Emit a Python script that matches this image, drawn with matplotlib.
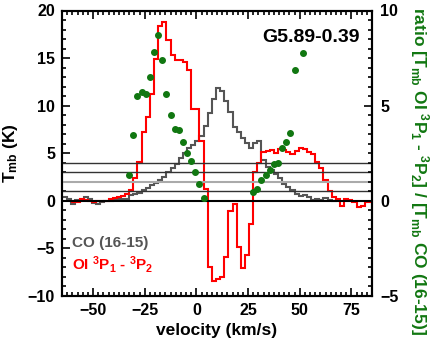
import numpy as np
import matplotlib
matplotlib.use('Agg')
import matplotlib.pyplot as plt
from matplotlib.ticker import MultipleLocator

plt.rcParams['font.family'] = ['Liberation Sans', 'DejaVu Sans']
plt.rcParams['font.weight'] = 'bold'
plt.rcParams['mathtext.fontset'] = 'custom'
plt.rcParams['mathtext.rm'] = 'Liberation Sans:bold'
plt.rcParams['mathtext.bf'] = 'Liberation Sans:bold'
plt.rcParams['mathtext.it'] = 'Liberation Sans:bold'
plt.rcParams['mathtext.default'] = 'bf'

# ---- data ----
chan_width = 2.0
co_v_start = -66.5
co_tmb = [0.45, 0.45, 0.2, -0.3, 0.1, 0.1, 0.45, 0.2, -0.2, -0.3, -0.1, 0.0, 0.0, 0.1,
          0.15, 0.15, 0.2, 0.6, 0.7, 0.8, 1.1, 1.4, 1.7, 1.9, 2.15, 2.5, 3.0, 3.4, 3.9,
          4.5, 5.0, 5.5, 5.9, 6.3, 6.8, 7.9, 9.2, 10.7, 11.9, 11.5, 10.5, 9.3, 7.8, 7.2,
          6.6, 6.1, 5.5, 6.1, 6.3, 4.3, 3.6, 3.2, 2.8, 2.4, 1.8, 1.5, 1.1, 0.7, 0.5, 0.65,
          0.45, 0.1, 0.2, 0.1, 0.3, 0.1, 0.0, 0.1]

oi_v_start = -60.5
oi_tmb = [-0.1, -0.1, 0.2, 0.1, 0.0, -0.1, 0.0, 0.0, 0.0, 0.15, 0.3, 0.45, 0.5, 0.7, 1.1,
          2.4, 4.1, 7.2, 8.8, 11.2, 14.9, 18.4, 18.8, 16.9, 15.3, 14.8, 14.8, 14.6, 13.8,
          9.7, 9.7, 6.3, 1.2, -7.0, -8.4, -8.2, -8.0, -5.9, -1.1, -0.3, -4.9, -7.1, -5.7,
          -2.4, 3.0, 4.0, 5.1, 5.2, 5.3, 5.05, 5.4, 5.3, 5.1, 4.95, 5.2, 5.55, 5.4, 5.1,
          4.95, 4.1, 3.4, 2.2, 1.0, 0.45, 0.2, -0.5, 0.2, 0.1, -0.1, -0.6, -0.5, -0.1, -0.1]

ratio_v = [-32.5, -30.5, -28.5, -26.5, -24.5, -22.5, -20.5, -18.5, -16.5, -14.5, -12.5,
           -10.5, -8.5, -6.5, -4.5, -2.5, -0.5, 1.5, 3.5,
           27.5, 29.5, 31.5, 33.5, 35.5, 37.5, 39.5, 41.5, 43.5, 45.5, 47.5, 51.5]
ratio = [1.37, 3.48, 5.5, 5.7, 5.6, 6.5, 7.8, 8.7, 7.4, 5.6, 4.5, 3.8, 3.7, 3.1, 2.5, 2.1,
         1.5, 0.9, 0.16,
         0.45, 0.6, 1.07, 1.37, 1.6, 1.95, 2.0, 2.8, 3.08, 3.57, 6.9, 7.77]

ratio_levels = [0.5, 1.0, 1.5, 2.0]
ratio_level_colors = ['#333333', '#aaaaaa', '#333333', '#333333']

co_edges = co_v_start + chan_width * np.arange(len(co_tmb) + 1)
oi_edges = oi_v_start + chan_width * np.arange(len(oi_tmb) + 1)

# ---- figure ----
fig = plt.figure(figsize=(4.36, 3.4), dpi=100)
ax = fig.add_axes([62/436, 44/340, 310/436, 285.5/340])
ax2 = ax.twinx()

ax.stairs(co_tmb, co_edges, color='#555555', lw=1.5, baseline=None, zorder=3)
ax.stairs(oi_tmb, oi_edges, color='#ff0000', lw=1.5, baseline=None, zorder=4)
ax.axhline(0, color='black', lw=1.5, zorder=5)

for lev, c in zip(ratio_levels, ratio_level_colors):
    ax2.axhline(lev, color=c, lw=1.0 if c != '#aaaaaa' else 1.5, zorder=1)
ax2.plot(ratio_v, ratio, 'o', color='#117711', ms=4, mec='#117711', zorder=6)

ax.set_xlim(-65, 85)
ax.set_ylim(-10, 20)
ax2.set_ylim(-5, 10)

ax.xaxis.set_major_locator(MultipleLocator(25))
ax.xaxis.set_minor_locator(MultipleLocator(2.5))
ax.yaxis.set_major_locator(MultipleLocator(5))
ax.yaxis.set_minor_locator(MultipleLocator(1))
ax2.yaxis.set_major_locator(MultipleLocator(5))
ax2.yaxis.set_minor_locator(MultipleLocator(0.5))

for a in (ax, ax2):
    for s in a.spines.values():
        s.set_linewidth(1.5)
ax.tick_params(which='both', direction='in', top=True, right=False, width=1.2,
               labelsize=11.5, pad=5)
ax.tick_params(which='major', length=6)
ax.tick_params(which='minor', length=3)
ax2.tick_params(which='both', direction='in', width=1.2, labelsize=11.5, pad=6)
ax2.tick_params(which='major', length=6)
ax2.tick_params(which='minor', length=3)

ax.set_xlabel('velocity (km/s)', fontsize=12.5, fontweight='bold', labelpad=4)

fig.text(10/436, 1-153/340, 'T$_{mb}$ (K)', rotation=90, ha='center', va='center',
         fontsize=12.5, fontweight='bold')
fig.text(419/436, 1-171/340,
         'ratio [T$_{mb}$ OI $^{3}$P$_{1}$ - $^{3}$P$_{2}$] / [T$_{mb}$ CO (16-15)]',
         rotation=270, ha='center', va='center', fontsize=12.5, fontweight='bold',
         color='#117711')

fig.text(360/436, 1-42/340, 'G5.89-0.39', ha='right', va='baseline', fontsize=14,
         fontweight='bold')
fig.text(72/436, 1-247/340, 'CO (16-15)', ha='left', va='baseline', fontsize=11,
         fontweight='bold', color='#555555')
fig.text(72/436, 1-270/340, 'OI $^{3}$P$_{1}$ - $^{3}$P$_{2}$', ha='left', va='baseline',
         fontsize=11, fontweight='bold', color='#ff0000')

fig.savefig('out.png', dpi=100)
